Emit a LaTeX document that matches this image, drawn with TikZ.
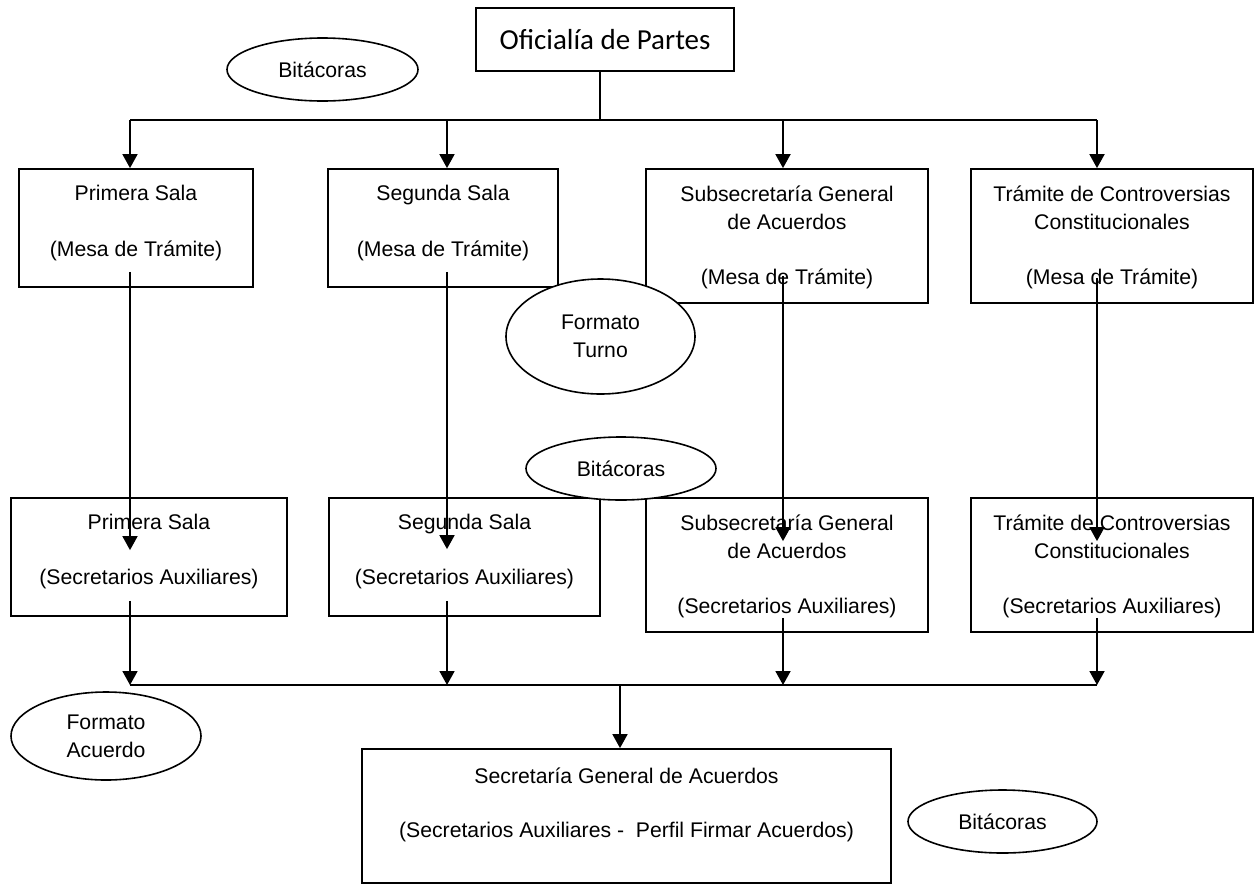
\documentclass[tikz,border=0pt]{standalone}
\usepackage{fontspec}
\setmainfont{Liberation Sans}
\newfontfamily\calibri{Carlito}
\usetikzlibrary{shapes.geometric,arrows.meta,positioning,calc}

\tikzset{
  caja/.style={draw, line width=1.8pt, inner sep=0pt},
  texto/.style={align=center, inner sep=0pt, font={\fontsize{21.2}{28}\selectfont}},
  elipse/.style={draw, ellipse, fill=white, line width=1.6pt, inner sep=0pt, align=center,
    font={\fontsize{21.2}{28}\selectfont}},
  linea/.style={line width=1.8pt},
  flecha/.style={line width=1.8pt, -{Triangle[width=15pt,length=14pt]}},
}

\begin{document}
\begin{tikzpicture}[x=1pt,y=-1pt]
\useasboundingbox (0,0) rectangle (1257,884);

% cajas
\node[caja, minimum width=258pt, minimum height=63pt, font={\calibri\fontsize{29}{35}\selectfont}] (ofi) at (605,39.5) {Oficialía de Partes};

\node[caja, minimum width=234pt, minimum height=118pt] (ps1) at (136,228) {};
\node[caja, minimum width=230pt, minimum height=118pt] (ss1) at (443,228) {};
\node[caja, minimum width=282pt, minimum height=134pt] (sub1) at (787,236) {};
\node[caja, minimum width=282pt, minimum height=134pt] (tc1) at (1112,236) {};

\node[caja, minimum width=276pt, minimum height=118pt] (ps2) at (149,557) {};
\node[caja, minimum width=271pt, minimum height=118pt] (ss2) at (464.5,557) {};
\node[caja, minimum width=282pt, minimum height=134pt] (sub2) at (787,565) {};
\node[caja, minimum width=282pt, minimum height=134pt] (tc2) at (1112,565) {};

\node[caja, minimum width=529pt, minimum height=134pt] (sga) at (626.5,816) {};

% textos
\node[texto] (ps1t) at (136,223) {Primera Sala\\[28pt](Mesa de Trámite)};
\node[texto] (ss1t) at (443,223) {Segunda Sala\\[28pt](Mesa de Trámite)};
\node[texto] (sub1t) at (787,237) {Subsecretaría General\\de Acuerdos\\[27pt](Mesa de Trámite)};
\node[texto] (tc1t) at (1112,237) {Trámite de Controversias\\Constitucionales\\[27pt](Mesa de Trámite)};

\node[texto] (ps2t) at (149,552) {Primera Sala\\[27pt](Secretarios Auxiliares)};
\node[texto] (ss2t) at (464.5,552) {Segunda Sala\\[27pt](Secretarios Auxiliares)};
\node[texto] (sub2t) at (787,566) {Subsecretaría General\\de Acuerdos\\[27pt](Secretarios Auxiliares)};
\node[texto] (tc2t) at (1112,566) {Trámite de Controversias\\Constitucionales\\[27pt](Secretarios Auxiliares)};

\node[texto] (sgat) at (626.5,804.5) {Secretaría General de Acuerdos\\[26pt](Secretarios Auxiliares -\ \ Perfil Firmar Acuerdos)};

% conectores
\coordinate (m1) at (600,120);
\coordinate (k1) at (130,120);
\coordinate (k2) at (447,120);
\coordinate (k3) at (783,120);
\coordinate (k4) at (1097,120);
\coordinate (abajo) at (0,685);
\coordinate (m2) at (620,685);

\draw[linea] (ofi.south -| m1) -- (m1);
\draw[linea] (k1) -- (k4);
\foreach \k/\n in {k1/ps1, k2/ss1, k3/sub1, k4/tc1}
  \draw[flecha] (\k) -- (\k |- \n.north);

\foreach \k/\a/\b/\s/\e in {k1/ps1/ps2/16/53, k2/ss1/ss2/16/52, k3/sub1/sub2/28/44, k4/tc1/tc2/26/44}
  \draw[flecha] ($(\a.south -| \k)+(0,-\s)$) -- ($(\b.north -| \k)+(0,\e)$);

\foreach \k/\n/\s in {k1/ps2/16, k2/ss2/16, k3/sub2/15, k4/tc2/15}
  \draw[flecha] ($(\n.south -| \k)+(0,-\s)$) -- (\k |- abajo);

\draw[linea] (k1 |- abajo) -- (k4 |- abajo);
\draw[flecha] (m2) -- (m2 |- sga.north);

% elipses
\node[elipse, minimum width=191pt, minimum height=63pt] (bit1) at (322.5,69.5) {Bitácoras};
\node[elipse, minimum width=189pt, minimum height=115pt] (turno) at (600.5,336.5) {Formato\\Turno};
\node[elipse, minimum width=190pt, minimum height=63pt] (bit2) at (621,468.5) {Bitácoras};
\node[elipse, minimum width=190pt, minimum height=88pt] (acuerdo) at (106,736) {Formato\\Acuerdo};
\node[elipse, minimum width=189pt, minimum height=63pt] (bit3) at (1002.5,821.5) {Bitácoras};
\end{tikzpicture}
\end{document}
